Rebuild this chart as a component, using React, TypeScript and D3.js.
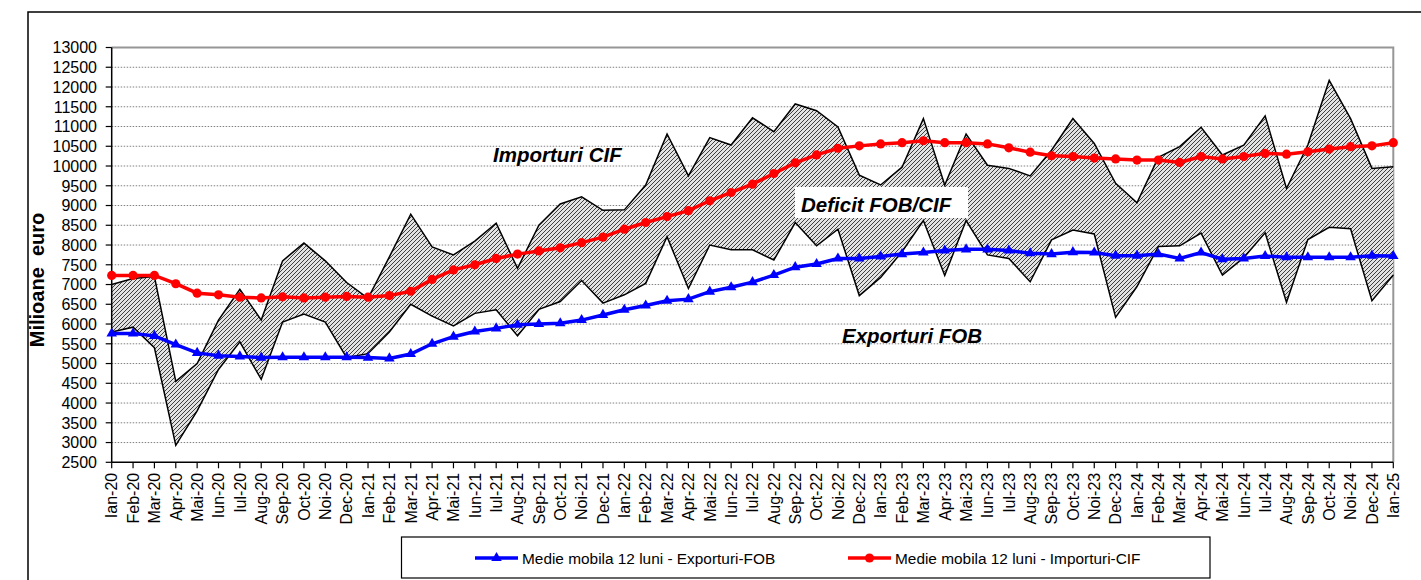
import React from "react";
import * as d3 from "d3";

const categories: string[] = [
  "Ian-20","Feb-20","Mar-20","Apr-20","Mai-20","Iun-20","Iul-20","Aug-20","Sep-20","Oct-20","Noi-20","Dec-20",
  "Ian-21","Feb-21","Mar-21","Apr-21","Mai-21","Iun-21","Iul-21","Aug-21","Sep-21","Oct-21","Noi-21","Dec-21",
  "Ian-22","Feb-22","Mar-22","Apr-22","Mai-22","Iun-22","Iul-22","Aug-22","Sep-22","Oct-22","Noi-22","Dec-22",
  "Ian-23","Feb-23","Mar-23","Apr-23","Mai-23","Iun-23","Iul-23","Aug-23","Sep-23","Oct-23","Noi-23","Dec-23",
  "Ian-24","Feb-24","Mar-24","Apr-24","Mai-24","Iun-24","Iul-24","Aug-24","Sep-24","Oct-24","Noi-24","Dec-24",
  "Ian-25",
];

const importuriCIF: number[] = [
  7000, 7150, 7200, 4550, 5000, 6100, 6880, 6100, 7600, 8050, 7600, 7050,
  6650, 7700, 8780, 7950, 7750, 8100, 8550, 7410, 8500, 9040, 9220, 8880,
  8890, 9520, 10810, 9750, 10720, 10530, 11220, 10870, 11570, 11400, 10990, 9770,
  9520, 9970, 11200, 9520, 10810, 10020, 9940, 9750, 10400, 11200, 10570, 9560,
  9070, 10220, 10490, 10980, 10280, 10530, 11270, 9430, 10530, 12170, 11200, 9940,
  9980,
];

const exporturiFOB: number[] = [
  5800, 5920, 5400, 2930, 3800, 4850, 5550, 4600, 6050, 6250, 6050, 5150,
  5250, 5800, 6500, 6200, 5950, 6270, 6360, 5700, 6370, 6570, 7100, 6530,
  6740, 7030, 8210, 6900, 8000, 7880, 7880, 7620, 8570, 7980, 8400, 6720,
  7180, 7830, 8620, 7230, 8620, 7750, 7660, 7070, 8130, 8380, 8280, 6170,
  6950, 7960, 7980, 8300, 7240, 7680, 8310, 6550, 8140, 8450, 8410, 6590,
  7240,
];

const mediaImporturi: number[] = [
  7230, 7230, 7230, 7020, 6780, 6740, 6680, 6660, 6690, 6660, 6680, 6700,
  6680, 6720, 6830, 7130, 7370, 7500, 7660, 7770, 7850, 7930, 8060, 8200,
  8400, 8570, 8720, 8870, 9120, 9330, 9540, 9810, 10080, 10280, 10450, 10510,
  10560, 10590, 10640, 10590, 10590, 10560, 10460, 10350, 10260, 10240, 10200, 10180,
  10150, 10150, 10090, 10240, 10180, 10240, 10320, 10300, 10360, 10430, 10490, 10510,
  10590,
];

const mediaExporturi: number[] = [
  5760, 5760, 5700, 5480, 5270, 5200, 5180, 5150, 5160, 5160, 5160, 5160,
  5150, 5130, 5240, 5500, 5680, 5810, 5890, 5980, 6000, 6020, 6100, 6230,
  6360, 6470, 6590, 6630, 6820, 6930, 7060, 7240, 7440, 7520, 7660, 7660,
  7710, 7770, 7810, 7860, 7890, 7890, 7860, 7790, 7770, 7820, 7810, 7730,
  7730, 7770, 7660, 7810, 7640, 7660, 7720, 7690, 7690, 7690, 7690, 7730,
  7720,
];

const yTicks: number[] = d3.range(2500, 13001, 500);

const legendLabels: string[] = [
  "Medie mobila 12 luni - Exporturi-FOB",
  "Medie mobila 12 luni - Importuri-CIF",
];

const FONT = "'Liberation Sans', Arial, Helvetica, sans-serif";

export default function App() {
  const W = 1421;
  const H = 580;
  const left = 111.7;
  const right = 1393.3;
  const top = 47.5;
  const bottom = 462.3;

  const x = d3.scalePoint<string>().domain(categories).range([left, right]).padding(0);
  const y = d3.scaleLinear().domain([2500, 13000]).range([bottom, top]);

  const idx = categories.map((_, i) => i);
  const area = d3
    .area<number>()
    .x((i) => x(categories[i]) as number)
    .y0((i) => y(exporturiFOB[i]))
    .y1((i) => y(importuriCIF[i]));
  const lineOf = (arr: number[]) =>
    d3
      .line<number>()
      .x((i) => x(categories[i]) as number)
      .y((i) => y(arr[i]))(idx) as string;

  const tri = d3.symbol().type(d3.symbolTriangle).size(48)() as string;

  return (
    <svg
      width={W}
      height={H}
      style={{ position: "absolute", left: 0, top: 0, background: "#fff" }}
      fontFamily={FONT}
    >
      <defs>
        <pattern id="hatch" patternUnits="userSpaceOnUse" width={4} height={4}>
          <rect width={4} height={4} fill="#e2e2e2" />
          <path d="M-1,1 L1,-1 M0,4 L4,0 M3,5 L5,3" stroke="#404040" strokeWidth={1} />
        </pattern>
      </defs>

      {/* outer chart border */}
      <path d={`M28,${H + 2} L28,12 L${W + 2},12`} fill="none" stroke="#000" strokeWidth={1.5} />

      {/* gridlines */}
      {yTicks
        .filter((t) => t > 2500 && t < 13000)
        .map((t) => (
          <line
            key={"g" + t}
            x1={left}
            x2={right}
            y1={y(t)}
            y2={y(t)}
            stroke="#808080"
            strokeWidth={1}
            strokeDasharray="1.5 1.5"
          />
        ))}

      {/* plot border top/right */}
      <path d={`M${left},${top} L${right},${top} L${right},${bottom}`} fill="none" stroke="#969696" strokeWidth={2} />

      {/* hatched deficit area */}
      <path d={area(idx) as string} fill="url(#hatch)" stroke="none" />
      <path d={lineOf(importuriCIF)} fill="none" stroke="#000" strokeWidth={1.5} strokeLinejoin="miter" />
      <path d={lineOf(exporturiFOB)} fill="none" stroke="#000" strokeWidth={1.5} strokeLinejoin="miter" />

      {/* axes */}
      <line x1={left} x2={left} y1={top} y2={bottom} stroke="#000" strokeWidth={1.5} />
      <line x1={left} x2={right} y1={bottom} y2={bottom} stroke="#000" strokeWidth={1.5} />
      {yTicks.map((t) => (
        <g key={"yt" + t}>
          <line x1={left - 6} x2={left} y1={y(t)} y2={y(t)} stroke="#000" strokeWidth={1.2} />
          <text x={97} y={y(t)} dy="0.36em" textAnchor="end" fontSize={16} fill="#000">
            {t}
          </text>
        </g>
      ))}
      {categories.map((c) => {
        const cx = x(c) as number;
        return (
          <g key={"xt" + c}>
            <line x1={cx} x2={cx} y1={bottom} y2={bottom + 6} stroke="#000" strokeWidth={1.2} />
            <text
              transform={`translate(${cx},${bottom + 10.5}) rotate(-90)`}
              dy="0.36em"
              textAnchor="end"
              fontSize={16}
              fill="#000"
            >
              {c}
            </text>
          </g>
        );
      })}

      {/* y label */}
      <text
        transform={`translate(44,280) rotate(-90)`}
        textAnchor="middle"
        fontSize={20}
        fontWeight="bold"
        fill="#000"
        style={{ whiteSpace: "pre" }}
      >
        {"Milioane  euro"}
      </text>

      {/* moving averages */}
      <path d={lineOf(mediaImporturi)} fill="none" stroke="#ff0000" strokeWidth={3.5} />
      {idx.map((i) => (
        <circle key={"c" + i} cx={x(categories[i]) as number} cy={y(mediaImporturi[i])} r={4.6} fill="#ff0000" />
      ))}
      <path d={lineOf(mediaExporturi)} fill="none" stroke="#0000ff" strokeWidth={3.5} />
      {idx.map((i) => (
        <path
          key={"t" + i}
          d={tri}
          transform={`translate(${x(categories[i])},${y(mediaExporturi[i])})`}
          fill="#0000ff"
        />
      ))}

      {/* annotations */}
      <text x={493} y={162} fontSize={20.5} fontWeight="bold" fontStyle="italic" fill="#000">
        Importuri CIF
      </text>
      <rect x={795} y={187} width={173} height={31} fill="#fff" />
      <text x={801} y={211.5} fontSize={20.5} fontWeight="bold" fontStyle="italic" fill="#000">
        Deficit FOB/CIF
      </text>
      <text x={842} y={343} fontSize={20.5} fontWeight="bold" fontStyle="italic" fill="#000">
        Exporturi FOB
      </text>

      {/* legend */}
      <rect x={401.5} y={537} width={808.5} height={41} fill="#fff" stroke="#000" strokeWidth={1.2} />
      <line x1={475} x2={518} y1={558} y2={558} stroke="#0000ff" strokeWidth={3.5} />
      <path d={tri} transform="translate(496.5,558)" fill="#0000ff" />
      <text x={522} y={558} dy="0.36em" fontSize={15.4} fill="#000">
        {legendLabels[0]}
      </text>
      <line x1={848} x2={891} y1={558} y2={558} stroke="#ff0000" strokeWidth={3.5} />
      <circle cx={869.5} cy={558} r={4.6} fill="#ff0000" />
      <text x={895} y={558} dy="0.36em" fontSize={15.4} fill="#000">
        {legendLabels[1]}
      </text>
    </svg>
  );
}
